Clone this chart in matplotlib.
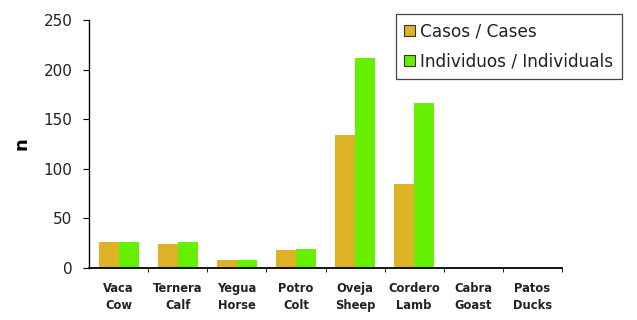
import numpy as np
import matplotlib.pyplot as plt
from matplotlib.patches import Patch

plt.rcParams['font.family'] = ['DejaVu Sans']

especies = ["Vaca\nCow", "Ternera\nCalf", "Yegua\nHorse", "Potro\nColt",
            "Oveja\nSheep", "Cordero\nLamb", "Cabra\nGoast", "Patos\nDucks"]
casos = [26, 24, 8, 18, 134, 85, 0, 0]
individuos = [26, 26, 8, 19, 212, 166, 0, 0]

col_casos = "#DEB226"
col_indiv = "#66F000"

fig = plt.figure(figsize=(6.37, 3.2), dpi=100)
ax = fig.add_axes([0.14, 0.1625, 0.742, 0.775])

x = np.arange(len(especies))
w = 0.34
ax.bar(x - w/2, casos, w, color=col_casos)
ax.bar(x + w/2, individuos, w, color=col_indiv)

ax.set_xlim(-0.5, len(especies) - 0.5)
ax.set_ylim(0, 250)
ax.set_yticks(range(0, 251, 50))
ax.tick_params(axis='y', direction='out', length=4, labelsize=11, pad=8,
               labelcolor="#222222")

ax.set_xticks(x)
ax.set_xticklabels(especies, fontsize=8.3, fontweight='bold', linespacing=1.45,
                   color="#222222")
ax.tick_params(axis='x', length=0, pad=10)
ax.set_xticks(np.arange(len(especies)) + 0.5, minor=True)
ax.tick_params(axis='x', which='minor', direction='out', length=3)

for s in ['top', 'right']:
    ax.spines[s].set_visible(False)
ax.spines['left'].set_linewidth(1.0)
ax.spines['bottom'].set_linewidth(1.3)

ax.set_ylabel("n", fontsize=13, fontweight='bold')
ax.yaxis.set_label_coords(-0.125, 0.5)

handles = [Patch(facecolor=col_casos, edgecolor="#333333", linewidth=0.8),
           Patch(facecolor=col_indiv, edgecolor="#333333", linewidth=0.8)]
leg = ax.legend(handles, ["Casos / Cases", "Individuos / Individuals"],
                loc='upper right', bbox_to_anchor=(622/637, 1 - 14/320),
                bbox_transform=fig.transFigure, borderaxespad=0,
                fontsize=12.2, handlelength=0.65, handleheight=0.65,
                handletextpad=0.3, fancybox=False, framealpha=1,
                edgecolor="#444444", labelspacing=0.7, borderpad=0.5)
leg.get_frame().set_linewidth(0.9)
for t in leg.get_texts():
    t.set_color("#222222")

fig.savefig("out.png", dpi=100)
